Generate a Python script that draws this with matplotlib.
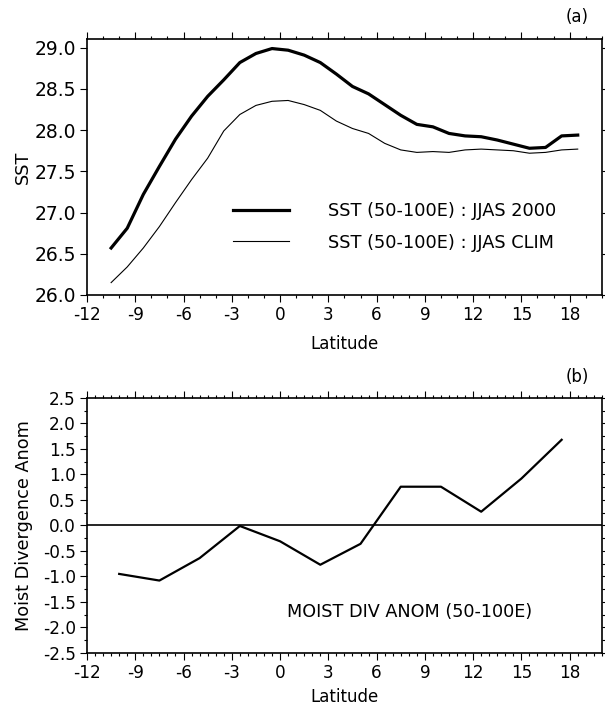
#!/usr/bin/env python3
import matplotlib
matplotlib.use("Agg")
import matplotlib.pyplot as plt
from matplotlib.ticker import MultipleLocator

plt.rcParams["font.family"] = ["DejaVu Sans"]
plt.rcParams["font.size"] = 12

# panel (a): SST vs latitude
lat_sst = [-10.5, -9.5, -8.5, -7.5, -6.5, -5.5, -4.5, -3.5, -2.5, -1.5,
           -0.5, 0.5, 1.5, 2.5, 3.5, 4.5, 5.5, 6.5, 7.5, 8.5,
           9.5, 10.5, 11.5, 12.5, 13.5, 14.5, 15.5, 16.5, 17.5, 18.5]
sst_2000 = [26.57, 26.81, 27.22, 27.56, 27.89, 28.17, 28.41, 28.61, 28.82, 28.93,
            28.99, 28.97, 28.91, 28.82, 28.68, 28.53, 28.44, 28.31, 28.18, 28.07,
            28.04, 27.96, 27.93, 27.92, 27.88, 27.83, 27.78, 27.79, 27.93, 27.94]
sst_clim = [26.15, 26.34, 26.57, 26.83, 27.12, 27.40, 27.66, 27.99, 28.19, 28.30,
            28.35, 28.36, 28.31, 28.24, 28.11, 28.02, 27.96, 27.84, 27.76, 27.73,
            27.74, 27.73, 27.76, 27.77, 27.76, 27.75, 27.72, 27.73, 27.76, 27.77]
label_2000 = "SST (50-100E) : JJAS 2000"
label_clim = "SST (50-100E) : JJAS CLIM"

# panel (b): moisture divergence anomaly
lat_div = [-10, -7.5, -5, -2.5, 0, 2.5, 5, 7.5, 10, 12.5, 15, 17.5]
div_anom = [-0.95, -1.08, -0.64, -0.01, -0.31, -0.77, -0.36, 0.76, 0.76, 0.27, 0.92, 1.68]
label_div = "MOIST DIV ANOM (50-100E)"

xticks = list(range(-12, 19, 3))
sst_ticks = [26.0, 26.5, 27.0, 27.5, 28.0, 28.5, 29.0]
div_ticks = [-2.5 + 0.5 * i for i in range(11)]


def style_axis(ax, ylabelsize):
    ax.tick_params(which="both", direction="out", top=True, right=True, width=0.8)
    ax.tick_params(which="major", length=5, labelsize=12.2, pad=3)
    ax.tick_params(axis="y", which="major", labelsize=ylabelsize)
    ax.tick_params(which="minor", length=2.5)
    for sp in ax.spines.values():
        sp.set_linewidth(1.2)
    ax.set_xticks(xticks)
    ax.set_xticklabels([str(t) for t in xticks])


fig = plt.figure(figsize=(6.05, 7.05), dpi=100)

ax1 = fig.add_axes([0.1438, 0.5816, 0.851, 0.3624])
ax1.plot(lat_sst, sst_2000, color="black", lw=2.3, label=label_2000)
ax1.plot(lat_sst, sst_clim, color="black", lw=0.8, label=label_clim)
ax1.set_xlim(-12, 20)
ax1.set_ylim(26.0, 29.1)
style_axis(ax1, 13.5)
ax1.xaxis.set_minor_locator(MultipleLocator(1))
ax1.set_yticks(sst_ticks)
ax1.set_yticklabels(["%.1f" % v for v in sst_ticks])
ax1.set_xlabel("Latitude", fontsize=12, labelpad=8)
ax1.set_ylabel("SST", fontsize=12.7, labelpad=2)
ax1.legend(loc="center left", bbox_to_anchor=(0.2665, 0.266), frameon=False,
           borderpad=0, handlelength=3.15, handletextpad=2.2, labelspacing=0.75,
           fontsize=12.8)
ax1.text(0.975, 1.089, "(a)", transform=ax1.transAxes, ha="right", va="center",
         fontsize=12)

ax2 = fig.add_axes([0.1438, 0.0738, 0.851, 0.3617])
ax2.plot(lat_div, div_anom, color="black", lw=1.6)
ax2.axhline(0, color="black", lw=1.2)
ax2.set_xlim(-12, 20)
ax2.set_ylim(-2.5, 2.5)
style_axis(ax2, 12.2)
ax2.xaxis.set_minor_locator(MultipleLocator(0.5))
ax2.yaxis.set_minor_locator(MultipleLocator(0.25))
ax2.set_yticks(div_ticks)
ax2.set_yticklabels(["%.1f" % v for v in div_ticks])
ax2.set_xlabel("Latitude", fontsize=12, labelpad=4)
ax2.set_ylabel("Moist Divergence Anom", fontsize=12.7, labelpad=7)
ax2.text(0.389, 0.162, label_div, transform=ax2.transAxes, ha="left", va="center",
         fontsize=12.7)
ax2.text(0.975, 1.082, "(b)", transform=ax2.transAxes, ha="right", va="center",
         fontsize=12)

fig.savefig("out.png", dpi=100)
